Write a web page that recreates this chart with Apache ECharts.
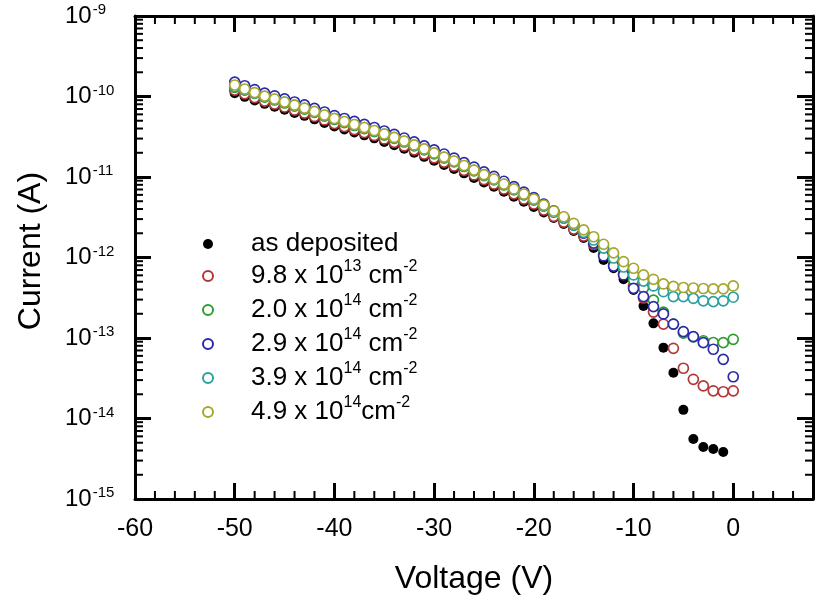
<!DOCTYPE html>
<html>
<head>
<meta charset="utf-8">
<script src="https://cdn.jsdelivr.net/npm/echarts@6/dist/echarts.min.js"></script>
<style>
  html, body { margin: 0; padding: 0; background: #ffffff; }
  #chart { width: 820px; height: 604px; }
</style>
</head>
<body>
<div id="chart"></div>
<script>
// Bias sweep (V)
const VOLTAGE = [-50,-49,-48,-47,-46,-45,-44,-43,-42,-41,-40,-39,-38,-37,-36,-35,-34,-33,-32,-31,
  -30,-29,-28,-27,-26,-25,-24,-23,-22,-21,-20,-19,-18,-17,-16,-15,-14,-13,-12,-11,
  -10,-9,-8,-7,-6,-5,-4,-3,-2,-1,0];

// Current (A) for each sample; the as-deposited sweep stops at -1 V
const AS_DEPOSITED = [
  1.10e-10, 9.90e-11, 8.95e-11, 8.10e-11, 7.45e-11, 6.85e-11, 6.25e-11, 5.75e-11, 5.20e-11, 4.70e-11,
  4.25e-11, 3.90e-11, 3.58e-11, 3.29e-11, 3.02e-11, 2.73e-11, 2.48e-11, 2.24e-11, 2.00e-11, 1.78e-11,
  1.59e-11, 1.41e-11, 1.26e-11, 1.11e-11, 9.75e-12, 8.55e-12, 7.55e-12, 6.55e-12, 5.68e-12, 4.92e-12,
  4.25e-12, 3.62e-12, 3.10e-12, 2.61e-12, 2.13e-12, 1.75e-12, 1.31e-12,
  9.31e-13, 7.35e-13, 5.36e-13, 3.94e-13, 2.50e-13, 1.52e-13, 7.59e-14, 3.71e-14, 1.28e-14,
  5.56e-15, 4.43e-15, 4.18e-15, 3.84e-15];

const DOSE_9_8E13 = [
  1.20e-10, 1.08e-10, 9.70e-11, 8.76e-11, 8.07e-11, 7.41e-11, 6.79e-11, 6.23e-11, 5.65e-11, 5.11e-11,
  4.62e-11, 4.24e-11, 3.89e-11, 3.57e-11, 3.28e-11, 2.97e-11, 2.69e-11, 2.43e-11, 2.17e-11, 1.93e-11,
  1.73e-11, 1.53e-11, 1.37e-11, 1.21e-11, 1.06e-11, 9.28e-12, 8.18e-12, 7.09e-12, 6.16e-12, 5.33e-12,
  4.62e-12, 3.89e-12, 3.25e-12, 2.75e-12, 2.25e-12, 1.85e-12, 1.45e-12,
  1.10e-12, 8.30e-13, 6.20e-13, 4.43e-13, 3.14e-13, 2.10e-13, 1.49e-13, 7.45e-14, 4.21e-14,
  3.07e-14, 2.54e-14, 2.21e-14, 2.15e-14, 2.21e-14];

const DOSE_2_0E14 = [
  1.30e-10, 1.20e-10, 1.09e-10, 9.85e-11, 9.05e-11, 8.30e-11, 7.60e-11, 6.98e-11, 6.33e-11, 5.72e-11,
  5.18e-11, 4.75e-11, 4.36e-11, 4.00e-11, 3.67e-11, 3.32e-11, 3.01e-11, 2.72e-11, 2.43e-11, 2.17e-11,
  1.94e-11, 1.72e-11, 1.54e-11, 1.35e-11, 1.19e-11, 1.04e-11, 9.20e-12, 7.95e-12, 6.90e-12, 5.98e-12,
  5.15e-12, 4.35e-12, 3.65e-12, 3.08e-12, 2.52e-12, 2.05e-12, 1.62e-12,
  1.25e-12, 9.31e-13, 7.00e-13, 5.25e-13, 4.18e-13, 2.96e-13, 2.10e-13, 1.49e-13, 1.15e-13,
  1.03e-13, 9.24e-14, 8.79e-14, 8.75e-14, 9.64e-14];

const DOSE_2_9E14 = [
  1.51e-10, 1.36e-10, 1.22e-10, 1.10e-10, 1.02e-10, 9.35e-11, 8.55e-11, 7.85e-11, 7.10e-11, 6.42e-11,
  5.80e-11, 5.33e-11, 4.90e-11, 4.50e-11, 4.12e-11, 3.73e-11, 3.38e-11, 3.05e-11, 2.73e-11, 2.43e-11,
  2.17e-11, 1.93e-11, 1.72e-11, 1.51e-11, 1.33e-11, 1.16e-11, 1.02e-11, 8.85e-12, 7.60e-12, 6.50e-12,
  5.55e-12, 4.60e-12, 3.80e-12, 3.15e-12, 2.55e-12, 2.01e-12, 1.51e-12,
  1.045e-12, 7.83e-13, 6.07e-13, 4.14e-13, 3.26e-13, 2.45e-13, 1.99e-13, 1.49e-13, 1.20e-13,
  1.04e-13, 8.75e-14, 7.25e-14, 5.43e-14, 3.30e-14];

const DOSE_3_9E14 = [
  1.33e-10, 1.22e-10, 1.10e-10, 1.00e-10, 9.20e-11, 8.50e-11, 7.80e-11, 7.10e-11, 6.45e-11, 5.85e-11,
  5.30e-11, 4.85e-11, 4.45e-11, 4.10e-11, 3.75e-11, 3.40e-11, 3.08e-11, 2.78e-11, 2.48e-11, 2.22e-11,
  1.98e-11, 1.76e-11, 1.57e-11, 1.38e-11, 1.21e-11, 1.06e-11, 9.35e-12, 8.10e-12, 7.02e-12, 6.05e-12,
  5.22e-12, 4.38e-12, 3.65e-12, 3.08e-12, 2.52e-12, 2.05e-12, 1.65e-12,
  1.31e-12, 9.86e-13, 7.62e-13, 6.07e-13, 5.10e-13, 4.43e-13, 3.76e-13, 3.26e-13, 3.26e-13,
  3.11e-13, 2.90e-13, 2.83e-13, 2.90e-13, 3.21e-13];

const DOSE_4_9E14 = [
  1.39e-10, 1.24e-10, 1.12e-10, 1.01e-10, 9.31e-11, 8.55e-11, 7.83e-11, 7.19e-11, 6.52e-11, 5.89e-11,
  5.33e-11, 4.89e-11, 4.49e-11, 4.12e-11, 3.78e-11, 3.42e-11, 3.10e-11, 2.80e-11, 2.50e-11, 2.23e-11,
  1.99e-11, 1.77e-11, 1.58e-11, 1.39e-11, 1.22e-11, 1.07e-11, 9.44e-12, 8.18e-12, 7.10e-12, 6.15e-12,
  5.33e-12, 4.49e-12, 3.78e-12, 3.21e-12, 2.66e-12, 2.20e-12, 1.81e-12,
  1.46e-12, 1.14e-12, 8.87e-13, 7.35e-13, 6.07e-13, 5.36e-13, 4.69e-13, 4.37e-13, 4.24e-13,
  4.18e-13, 4.12e-13, 4.07e-13, 4.07e-13, 4.43e-13];

// Legend entries ("^" marks a superscript)
const SERIES_NAMES = [
  'as deposited',
  '9.8 x 10^13 cm^-2',
  '2.0 x 10^14 cm^-2',
  '2.9 x 10^14 cm^-2',
  '3.9 x 10^14 cm^-2',
  '4.9 x 10^14cm^-2'
];
const SERIES_VALUES = [AS_DEPOSITED, DOSE_9_8E13, DOSE_2_0E14, DOSE_2_9E14, DOSE_3_9E14, DOSE_4_9E14];
const SERIES_COLORS = ['#000000', '#b23838', '#2e9e2e', '#2a2aac', '#2aa0a0', '#a6a62c'];
const SERIES_FILLED = [true, false, false, false, false, false];

// Axes
const X_MIN = -60, X_MAX = 8, X_MAJOR = 10, X_MINOR_STEP = 2;
const Y_MIN = 1e-15, Y_MAX = 1e-9;
const X_TICK_LABELS = [-60, -50, -40, -30, -20, -10, 0];
const Y_DECADES = [-15, -14, -13, -12, -11, -10, -9];

const FONT = "'Liberation Sans', Arial, sans-serif";

// minor tick positions: 2..9 within every decade, every 2 V between the major x ticks
const yMinorTicks = [];
for (let d = Y_DECADES[0]; d < Y_DECADES[Y_DECADES.length - 1]; d++) {
  for (let k = 2; k <= 9; k++) yMinorTicks.push(k * Math.pow(10, d));
}
const xMinorTicks = [];
for (let v = X_MIN; v <= X_MAX; v += X_MINOR_STEP) {
  if (v % X_MAJOR !== 0) xMinorTicks.push(v);
}

function richSup(text, base, sup) {
  return text.split(/\^(-?\d+)/).map((part, i) =>
    i % 2 ? '{' + sup + '|' + part + '}' : (part ? '{' + base + '|' + part + '}' : '')
  ).join('');
}

const MINOR_LEN = 8;
const tickStyle = { stroke: '#000', lineWidth: 2 };

const scatterSeries = SERIES_NAMES.map((name, i) => ({
  name: name,
  type: 'scatter',
  symbol: 'circle',
  symbolSize: 10,
  data: SERIES_VALUES[i].map((v, j) => [VOLTAGE[j], v]),
  itemStyle: SERIES_FILLED[i]
    ? { color: SERIES_COLORS[i], borderColor: SERIES_COLORS[i], borderWidth: 0, opacity: 1 }
    : { color: '#ffffff', borderColor: SERIES_COLORS[i], borderWidth: 1.7, opacity: 1 },
  emphasis: { disabled: true },
  z: 2 + i
}));

const option = {
  animation: false,
  backgroundColor: '#ffffff',
  grid: { left: 135, right: 7, top: 16, bottom: 105, containLabel: false },
  legend: {
    orient: 'vertical',
    left: 197,
    top: 224,
    padding: 5,
    itemWidth: 10,
    itemHeight: 10,
    itemGap: 0,
    selectedMode: false,
    data: SERIES_NAMES,
    formatter: name => '{g| }' + richSup(name, 'm', 's'),
    textStyle: {
      fontFamily: FONT,
      color: '#000',
      lineHeight: 30,
      rich: {
        g: { width: 33, lineHeight: 30, fontSize: 26 },
        m: { fontSize: 26, fontFamily: FONT, color: '#000', lineHeight: 30 },
        s: { fontSize: 16, fontFamily: FONT, color: '#000', lineHeight: 30, padding: [0, 0, 18, 0] }
      }
    }
  },
  xAxis: [
    {
      type: 'value', position: 'bottom', min: X_MIN, max: X_MAX, interval: X_MAJOR,
      name: 'Voltage (V)', nameLocation: 'middle', nameGap: 64,
      nameTextStyle: { fontFamily: FONT, fontSize: 32, color: '#000' },
      axisLine: { onZero: false, lineStyle: { color: '#000', width: 3 } },
      axisTick: { inside: true, length: 16, lineStyle: { color: '#000', width: 3 } },
      splitLine: { show: false },
      axisLabel: {
        margin: 18, fontFamily: FONT, fontSize: 25, color: '#000', showMaxLabel: false,
        formatter: v => (X_TICK_LABELS.indexOf(v) >= 0 ? String(v) : '')
      }
    },
    {
      type: 'value', position: 'top', min: X_MIN, max: X_MAX, interval: X_MAJOR,
      axisLine: { onZero: false, lineStyle: { color: '#000', width: 3 } },
      axisTick: { inside: true, length: 16, lineStyle: { color: '#000', width: 3 } },
      splitLine: { show: false },
      axisLabel: { show: false }
    }
  ],
  yAxis: [
    {
      type: 'log', logBase: 10, min: Y_MIN, max: Y_MAX, interval: 1, position: 'left',
      name: 'Current (A)', nameLocation: 'middle', nameGap: 88, nameRotate: 90,
      nameTextStyle: { fontFamily: FONT, fontSize: 32, color: '#000', padding: [0, 0, 0, 13] },
      axisLine: { onZero: false, lineStyle: { color: '#000', width: 3 } },
      axisTick: { inside: true, length: 16, lineStyle: { color: '#000', width: 3 } },
      splitLine: { show: false },
      axisLabel: {
        margin: 70, align: 'left',
        formatter: v => '{b|10}{s|' + Math.round(Math.log10(v)) + '}',
        rich: {
          b: { fontFamily: FONT, fontSize: 24, color: '#000', lineHeight: 28 },
          s: { fontFamily: FONT, fontSize: 15, color: '#000', lineHeight: 28, padding: [0, 0, 12, 1] }
        }
      }
    },
    {
      type: 'log', logBase: 10, min: Y_MIN, max: Y_MAX, interval: 1, position: 'right',
      axisLine: { onZero: false, lineStyle: { color: '#000', width: 3 } },
      axisTick: { inside: true, length: 16, lineStyle: { color: '#000', width: 3 } },
      splitLine: { show: false },
      axisLabel: { show: false }
    }
  ],
  series: [
    {
      // decade subdivisions on the left and right frame
      type: 'custom',
      silent: true,
      z: 10,
      data: yMinorTicks.map(v => [X_MIN, v]),
      renderItem: (params, api) => {
        const v = api.value(1);
        const l = api.coord([X_MIN, v]);
        const r = api.coord([X_MAX, v]);
        return {
          type: 'group',
          children: [
            { type: 'line', shape: { x1: l[0], y1: l[1], x2: l[0] + MINOR_LEN, y2: l[1] }, style: tickStyle },
            { type: 'line', shape: { x1: r[0], y1: r[1], x2: r[0] - MINOR_LEN, y2: r[1] }, style: tickStyle }
          ]
        };
      }
    },
    {
      // 2 V subdivisions on the bottom and top frame
      type: 'custom',
      silent: true,
      z: 10,
      data: xMinorTicks.map(v => [v, Y_MIN]),
      renderItem: (params, api) => {
        const v = api.value(0);
        const b = api.coord([v, Y_MIN]);
        const t = api.coord([v, Y_MAX]);
        return {
          type: 'group',
          children: [
            { type: 'line', shape: { x1: b[0], y1: b[1], x2: b[0], y2: b[1] - MINOR_LEN }, style: tickStyle },
            { type: 'line', shape: { x1: t[0], y1: t[1], x2: t[0], y2: t[1] + MINOR_LEN }, style: tickStyle }
          ]
        };
      }
    }
  ].concat(scatterSeries)
};

const chart = echarts.init(document.getElementById('chart'), null, { renderer: 'canvas' });
chart.setOption(option);
</script>
</body>
</html>
